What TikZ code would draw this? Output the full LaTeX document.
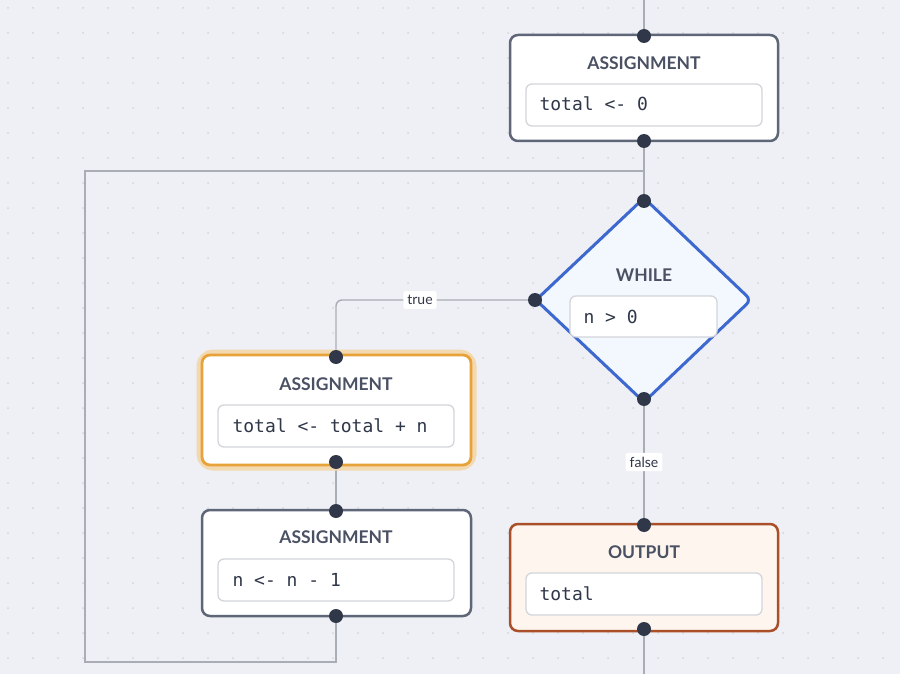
\documentclass[tikz,border=0pt]{standalone}
\usepackage{fontspec}
\setsansfont{Lato}
\setmonofont{DejaVu Sans Mono}
\usetikzlibrary{shapes.geometric}
\definecolor{bg}{HTML}{EEF0F5}
\definecolor{edge}{HTML}{A9ADB5}
\definecolor{dotc}{HTML}{2F3748}
\definecolor{gborder}{HTML}{5F6678}
\definecolor{title}{HTML}{4A5163}
\definecolor{ibord}{HTML}{D2D5DB}
\definecolor{blueb}{HTML}{3D68D0}
\definecolor{bluef}{HTML}{F3F7FE}
\definecolor{orab}{HTML}{E8A23A}
\definecolor{oraglow}{HTML}{F3D9B0}
\definecolor{outb}{HTML}{A9502A}
\definecolor{outf}{HTML}{FDF5EE}
\tikzset{
 box/.style={draw=gborder,line width=2.5pt,fill=white,rounded corners=8pt},
 inner/.style={draw=ibord,line width=1.3pt,fill=white,rounded corners=6pt},
 ttl/.style={font=\sffamily\bfseries\fontsize{17.5}{20}\selectfont,text=title},
 code/.style={font=\ttfamily\fontsize{18}{21}\selectfont,text=dotc,anchor=west},
 pin/.style={circle,fill=dotc,inner sep=0pt,minimum size=14pt},
 conn/.style={draw=edge,line width=1.4pt},
 lab/.style={fill=white,rounded corners=2pt,font=\sffamily\fontsize{14}{16}\selectfont,text=dotc,inner sep=4pt}
}
\begin{document}
\begin{tikzpicture}[x=1pt,y=-1pt]
\fill[bg] (0,0) rectangle (900,674);
\useasboundingbox (0,0) rectangle (900,674);
\foreach \i in {0,...,36}{\foreach \j in {0,...,27}{\fill[ibord] (\i*25+8,\j*25+8) circle (1pt);}}
\coordinate (top) at (644,0);
\coordinate (bot) at (644,674);
\coordinate (lb) at (336,662);
\coordinate (ll) at (85,662);
\coordinate (lt) at (85,171);
\coordinate (lr) at (644,171);
% connectors first
\draw[conn] (top) -- (644,36);
\draw[conn] (644,141) -- (644,201);
\draw[conn] (336,616) -- (lb) -- (ll) -- (lt) -- (lr);
\draw[conn,rounded corners=6pt] (535,300) -- (336,300) -- (336,357);
\draw[conn] (336,462) -- (336,511);
\draw[conn] (644,399) -- (644,525);
\draw[conn] (644,629) -- (bot);
% box 1
\draw[box] (510,35) rectangle (778,141);
\node[ttl] (t1) at (644,63) {ASSIGNMENT};
\draw[inner] (526,84) rectangle (762,126);
\node[code] (c1) at (536,104) {total <- 0};
% diamond
\draw[draw=blueb,line width=3pt,fill=bluef,rounded corners=6pt] (644,198)--(751,300)--(644,402)--(536,300)--cycle;
\node[ttl] (t2) at (644,275) {WHILE};
\draw[inner] (570,296) rectangle (717,337);
\node[code] (c2) at (580,317) {n > 0};
% box 2
\draw[oraglow,line width=11pt,rounded corners=11pt] (202,355) rectangle (471,465);
\draw[box,draw=orab,line width=2.8pt] (202,355) rectangle (471,465);
\node[ttl] (t3) at (336,384) {ASSIGNMENT};
\draw[inner] (218,405) rectangle (454,447);
\node[code] (c3) at (229,426) {total <- total + n};
% box 3
\draw[box] (202,510) rectangle (471,616);
\node[ttl] (t4) at (336,537) {ASSIGNMENT};
\draw[inner] (218,559) rectangle (454,601);
\node[code] (c4) at (229,580) {n <- n - 1};
% output
\draw[box,draw=outb,fill=outf] (510,524) rectangle (778,631);
\node[ttl] (t5) at (644,552) {OUTPUT};
\draw[inner] (526,573) rectangle (762,615);
\node[code] (c5) at (536,594) {total};
% labels
\node[lab] (l1) at (420,300) {true};
\node[lab] (l2) at (644,462) {false};
% pins
\node[pin] (p1) at (644,36) {};
\node[pin] (p2) at (644,141) {};
\node[pin] (p3) at (644,201) {};
\node[pin] (p4) at (535,300) {};
\node[pin] (p5) at (644,399) {};
\node[pin] (p6) at (336,357) {};
\node[pin] (p7) at (336,462) {};
\node[pin] (p8) at (336,511) {};
\node[pin] (p9) at (336,616) {};
\node[pin] (p10) at (644,525) {};
\node[pin] (p11) at (644,629) {};
\end{tikzpicture}
\end{document}
